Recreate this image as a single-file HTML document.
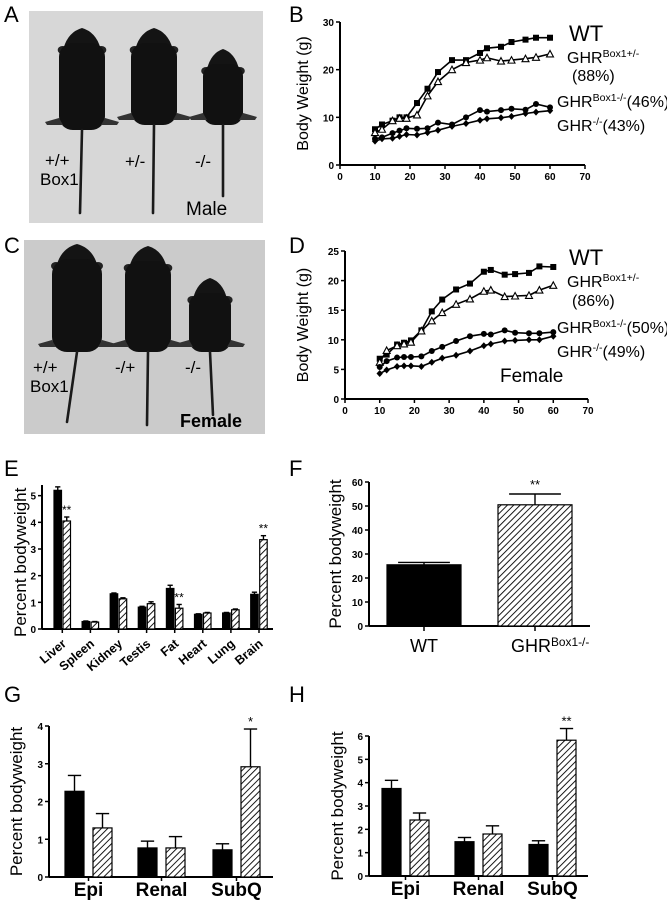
<!DOCTYPE html>
<html><head><meta charset="utf-8"><style>
html,body{margin:0;padding:0;background:#fff;}
svg{display:block;font-family:"Liberation Sans",Arial,sans-serif;}
</style></head><body>
<svg id="fig" width="667" height="900" viewBox="0 0 667 900" xmlns="http://www.w3.org/2000/svg">
<defs>
<pattern id="hatch" patternUnits="userSpaceOnUse" width="4.5" height="4.5" patternTransform="rotate(45)">
<rect width="4.5" height="4.5" fill="#fff"/><line x1="0" y1="0" x2="0" y2="4.5" stroke="#000" stroke-width="1.8"/>
</pattern>
</defs>
<g id="root"></g>
</svg>
<script>
// ===== Panel B data (male growth) =====
const daysB = [10,12,15,17,19,22,25,28,32,36,40,42,46,49,53,56,60];
const wtB = [7.5,8.5,9.3,10,10,13,16,19.5,22,22,23.5,24.5,24.8,25.8,26.3,26.7,26.7];
const box1HetB = [6.8,7.5,9.3,9.8,9.8,10.5,14.5,17.5,20,21.5,22,22.5,21.8,22,22.3,22.6,23.3];
const box1KoB = [5.5,5.8,6.7,7.2,7.7,7.6,7.7,8.9,8.5,10,11.5,11.2,11.5,11.8,11.6,12.8,12.1];
const ghrKoB = [5,5.5,5.6,6,6.4,6.3,6.8,7.3,8.1,8.7,9.4,9.7,9.9,10.2,10.8,11.1,11.4];
const xTicksB = [0,10,20,30,40,50,60,70];
const yTicksB = [0,10,20,30];
// ===== Panel D data (female growth) =====
const daysD = [10,12,15,17,19,22,25,28,32,36,40,42,46,49,53,56,60];
const wtD = [6.8,7.5,9.2,9.5,9.9,11.6,14.8,16.8,18.5,19.5,21.5,21.8,21,21.1,21.3,22.4,22.3];
const box1HetD = [6.2,8.2,9,9.3,9.6,11.5,13.2,14.6,16,16.9,18.2,18.4,17.3,17.4,17.5,18.4,19.2];
const box1KoD = [5.4,6.4,7,7.1,7.1,7.2,8.1,8.8,9.8,10.6,11,10.9,11.6,11.2,11.1,11.1,11.3];
const ghrKoD = [4.3,4.9,5.5,5.6,5.6,5.5,6.2,6.9,7.4,8.1,9,9.3,9.8,9.9,10,10,10.6];
const yTicksD = [0,5,10,15,20,25];
// ===== Panel E data (organs) =====
const organs = ["Liver","Spleen","Kidney","Testis","Fat","Heart","Lung","Brain"];
const organWT = [5.2,0.28,1.32,0.82,1.52,0.55,0.6,1.3];
const organWTerr = [0.13,0.02,0.03,0.03,0.12,0.02,0.02,0.08];
const organKO = [4.05,0.26,1.13,0.95,0.78,0.6,0.72,3.35];
const organKOerr = [0.15,0.02,0.04,0.07,0.14,0.02,0.03,0.15];
const organSig = ["**","","","","**","","","**"];
const yTicksE = [0,1,2,3,4,5];
// ===== Panel F data =====
const fCats = ["WT","GHR"];
const fVals = [25.5,50.5];
const fErr = [1,4.5];
const yTicksF = [0,10,20,30,40,50,60];
// ===== Panel G data =====
const fatCats = ["Epi","Renal","SubQ"];
const gWT = [2.27,0.77,0.72];
const gWTerr = [0.42,0.18,0.16];
const gKO = [1.3,0.77,2.92];
const gKOerr = [0.38,0.3,1.0];
const gSig = ["","","*"];
const yTicksG = [0,1,2,3,4];
// ===== Panel H data =====
const hWT = [3.75,1.47,1.35];
const hWTerr = [0.35,0.18,0.16];
const hKO = [2.4,1.8,5.82];
const hKOerr = [0.3,0.35,0.5];
const hSig = ["","","**"];
const yTicksH = [0,1,2,3,4,5,6];

const NS="http://www.w3.org/2000/svg";
const root=document.getElementById('root');
function mk(tag,attrs,parent){const e=document.createElementNS(NS,tag);for(const k in attrs)e.setAttribute(k,attrs[k]);(parent||root).appendChild(e);return e;}
function txt(s,x,y,size,opts,parent){opts=opts||{};const t=mk('text',{x:x,y:y,'font-size':size,'text-anchor':opts.anchor||'start','font-weight':opts.bold?'bold':'normal'},parent);if(opts.rot)t.setAttribute('transform','rotate('+opts.rot+' '+x+' '+y+')');t.textContent=s;return t;}
function lin(x1,y1,x2,y2,w,parent){return mk('line',{x1:x1,y1:y1,x2:x2,y2:y2,stroke:'#000','stroke-width':w||1.5},parent);}

// Panel letters
[["A",4,22],["B",289,22],["C",4,253],["D",289,253],["E",4,476],["F",289,476],["G",4,702],["H",289,702]].forEach(function(p){
  const t=txt(p[0],p[1],p[2],22);
  
  
});

// ===== Photos =====
function mouse(g,cx,top,bw,bh,tailEnd,tailX){
  mk('path',{d:'M'+cx+' '+top+' Q'+(cx+bw*0.3)+' '+(top+4)+' '+(cx+bw*0.4)+' '+(top+20)+' L'+(cx-bw*0.4)+' '+(top+20)+' Q'+(cx-bw*0.3)+' '+(top+4)+' '+cx+' '+top+'Z',fill:'#141414'},g);
  mk('ellipse',{cx:cx-bw*0.42,cy:top+22,rx:5,ry:4,fill:'#222'},g);
  mk('ellipse',{cx:cx+bw*0.42,cy:top+22,rx:5,ry:4,fill:'#222'},g);
  mk('rect',{x:cx-bw/2,y:top+15,width:bw,height:bh-15,rx:bw*0.3,fill:'#111'},g);
  const fy=top+bh-8;
  mk('path',{d:'M'+(cx-bw/2)+' '+(fy-4)+' L'+(cx-bw/2-14)+' '+fy+' L'+(cx-bw/2-12)+' '+(fy+3)+' L'+(cx-bw/2+4)+' '+(fy+3)+'Z',fill:'#333'},g);
  mk('path',{d:'M'+(cx+bw/2)+' '+(fy-4)+' L'+(cx+bw/2+14)+' '+fy+' L'+(cx+bw/2+12)+' '+(fy+3)+' L'+(cx+bw/2-4)+' '+(fy+3)+'Z',fill:'#333'},g);
  mk('path',{d:'M'+cx+' '+(top+bh)+' L'+tailX+' '+tailEnd,stroke:'#1a1a1a','stroke-width':2.6,fill:'none','stroke-linecap':'round'},g);
}
const pa=mk('g',{});


mk('rect',{x:29,y:11,width:234,height:212,fill:'#d7d7d7'},pa);
mouse(pa,82,28,46,102,213,80);
mouse(pa,154,28,46,97,213,153);
mouse(pa,223,49,40,76,196,223);
txt('+/+',45,166,17,{},pa);txt('Box1',40,185,17,{},pa);
txt('+/-',125,167,17,{},pa);txt('-/-',195,167,17,{},pa);txt('Male',186,215,19,{},pa);

const pc=mk('g',{});


mk('rect',{x:24,y:240,width:241,height:194,fill:'#cbcbcb'},pc);
mouse(pc,77,244,50,108,422,67);
mouse(pc,148,246,46,106,425,147);
mouse(pc,210,278,42,74,415,213);
txt('+/+',33,373,17,{},pc);txt('Box1',30,392,17,{},pc);
txt('-/+',115,373,17,{},pc);txt('-/-',185,373,17,{},pc);txt('Female',180,427,18,{bold:true},pc);

// ===== Line charts =====
function lineChart(name,ox,oy,xMax,xPx,yMax,yPx,xTicks,yTicks,days,series,ylabX){
  const g=mk('g',{});
  
  
  const sx=function(v){return ox+v/xMax*xPx;};
  const sy=function(v){return oy-v/yMax*yPx;};
  lin(ox,oy,ox+xPx,oy,2,g);lin(ox,oy,ox,oy-yPx,2,g);
  xTicks.forEach(function(v){lin(sx(v),oy,sx(v),oy+4,1.5,g);const t=txt(String(v),sx(v),oy+15,10,{anchor:'middle',bold:true},g);});
  yTicks.forEach(function(v){lin(ox-4,sy(v),ox,sy(v),1.5,g);const t=txt(String(v),ox-6,sy(v)+4,10,{anchor:'end',bold:true},g);});
  const yl=txt('Body Weight (g)',ylabX,sy(yMax/2),16,{anchor:'middle',rot:-90},g);
  
  series.forEach(function(s){
    const sg=mk('g',{},g);
    
    
    let d='';
    days.forEach(function(x,i){d+=(i?'L':'M')+sx(x).toFixed(1)+' '+sy(s.vals[i]).toFixed(1);});
    mk('path',{d:d,fill:'none',stroke:'#000','stroke-width':1.6},sg);
    days.forEach(function(x,i){
      const X=sx(x),Y=sy(s.vals[i]);let m;
      if(s.mark==='sq')m=mk('rect',{x:X-3,y:Y-3,width:6,height:6,fill:'#000'},sg);
      else if(s.mark==='tri')m=mk('path',{d:'M'+X+' '+(Y-3.5)+' L'+(X+3.5)+' '+(Y+3)+' L'+(X-3.5)+' '+(Y+3)+'Z',fill:'#fff',stroke:'#000','stroke-width':1.1},sg);
      else if(s.mark==='circ')m=mk('circle',{cx:X,cy:Y,r:3,fill:'#000'},sg);
      else m=mk('path',{d:'M'+X+' '+(Y-3.5)+' L'+(X+3.2)+' '+Y+' L'+X+' '+(Y+3.5)+' L'+(X-3.2)+' '+Y+'Z',fill:'#000'},sg);
      
      
    });
  });
  return g;
}
function sup(g,x,y,base,supTxt,rest,fs){
  fs=fs||16;
  const t=mk('text',{x:x,y:y,'font-size':fs},g);
  t.appendChild(document.createTextNode(base));
  const s=mk('tspan',{'font-size':fs*0.66,dy:-6},t);s.textContent=supTxt;
  if(rest){const r=mk('tspan',{dy:6},t);r.textContent=rest;}
  return t;
}
const gb=lineChart('male-growth-chart',340,165,70,245,30,143,xTicksB,yTicksB,daysB,[
 {name:'wt',vals:wtB,mark:'sq'},{name:'box1-het',vals:box1HetB,mark:'tri'},{name:'box1-ko',vals:box1KoB,mark:'circ'},{name:'ghr-ko',vals:ghrKoB,mark:'dia'}],308);
txt('WT',569,41,22,{},gb);
sup(gb,567,63,'GHR','Box1+/-');txt('(88%)',572,81,16,{},gb);
sup(gb,557,107,'GHR','Box1-/-','(46%)');
sup(gb,557,131,'GHR','-/-','(43%)');

const gd=lineChart('female-growth-chart',345,399,70,243,25,148,xTicksB,yTicksD,daysD,[
 {name:'wt',vals:wtD,mark:'sq'},{name:'box1-het',vals:box1HetD,mark:'tri'},{name:'box1-ko',vals:box1KoD,mark:'circ'},{name:'ghr-ko',vals:ghrKoD,mark:'dia'}],308);
txt('WT',569,265,22,{},gd);
sup(gd,567,287,'GHR','Box1+/-');txt('(86%)',572,306,16,{},gd);
sup(gd,557,333,'GHR','Box1-/-','(50%)');
sup(gd,557,357,'GHR','-/-','(49%)');
txt('Female',500,382,19,{},gd);

// ===== Bar charts =====
function barAxes(g,ox,oy,right,yMax,yPx,yTicks,ylabX,fs){
  const sy=function(v){return oy-v/yMax*yPx;};
  lin(ox,oy,right,oy,2,g);lin(ox,oy,ox,sy(yMax),2,g);
  yTicks.forEach(function(v){lin(ox-4,sy(v),ox,sy(v),1.5,g);const t=txt(String(v),ox-6,sy(v)+4,10,{anchor:'end',bold:true},g);});
  const yl=txt('Percent bodyweight',ylabX,oy-(yTicks[yTicks.length-1]/yMax*yPx)/2,fs||17,{anchor:'middle',rot:-90},g);
  
  return sy;
}
function bar(g,x,w,v,err,sy,hatched,nm){
  const b=mk('rect',{x:x,y:sy(v),width:w,height:sy(0)-sy(v),fill:hatched?'url(#hatch)':'#000',stroke:'#000','stroke-width':1.2},g);
  
  
  const cx=x+w/2;
  lin(cx,sy(v),cx,sy(v+err),1.4,g);lin(cx-w*0.35,sy(v+err),cx+w*0.35,sy(v+err),1.4,g);
}
// E
const ge=mk('g',{});


const syE=barAxes(ge,42,629,273,5.4,144,yTicksE,26,17);
organs.forEach(function(o,i){
  const x=54+i*28.1;
  bar(ge,x,7.5,organWT[i],organWTerr[i],syE,false,'bar-wt-'+o.toLowerCase());
  bar(ge,x+9,7.5,organKO[i],organKOerr[i],syE,true,'bar-ko-'+o.toLowerCase());
  lin(x+8.3,629,x+8.3,633,1.5,ge);
  if(organSig[i])txt(organSig[i],x+12.7,syE(organKO[i]+organKOerr[i])-3,12,{anchor:'middle'},ge);
  const t=txt(o,x+13,645,12.5,{anchor:'end',bold:true,rot:-40},ge);
  
});
// F
const gf=mk('g',{});


const syF=barAxes(gf,369,626,590,60,144,yTicksF,341,17);
[387,498].forEach(function(x,i){
  bar(gf,x,74,fVals[i],fErr[i],syF,i===1,'bar-'+fCats[i].toLowerCase());
  lin(x+37,626,x+37,631,1.5,gf);
});
txt('**',535,489,13,{anchor:'middle'},gf);
txt('WT',424,652,18,{anchor:'middle'},gf);
sup(gf,511,652,'GHR','Box1-/-',null,18);
// G & H
function fatChart(name,ox,oy,right,yMax,yPx,yTicks,ylabX,wt,wtE,ko,koE,sig,xs,bw){
  const g=mk('g',{});
  
  
  const sy=barAxes(g,ox,oy,right,yMax,yPx,yTicks,ylabX,17);
  fatCats.forEach(function(c,i){
    bar(g,xs[i],bw,wt[i],wtE[i],sy,false,'bar-wt-'+c.toLowerCase());
    bar(g,xs[i]+bw+9,bw,ko[i],koE[i],sy,true,'bar-ko-'+c.toLowerCase());
    lin(xs[i]+bw+4.5,oy,xs[i]+bw+4.5,oy+4,1.5,g);
    if(sig[i])txt(sig[i],xs[i]+bw*1.5+9,sy(ko[i]+koE[i])-3,13,{anchor:'middle'},g);
    const t=txt(c,xs[i]+bw+4.5,oy+19,19,{anchor:'middle',bold:true},g);
    
  });
}
fatChart('g-fat-depot-chart',49,877,273,4,151,yTicksG,22,gWT,gWTerr,gKO,gKOerr,gSig,[65,138,213],19);
fatChart('h-fat-depot-chart',369,876,588,6,140,yTicksH,343,hWT,hWTerr,hKO,hKOerr,hSig,[382,455,529],19);
</script>
</body></html>
